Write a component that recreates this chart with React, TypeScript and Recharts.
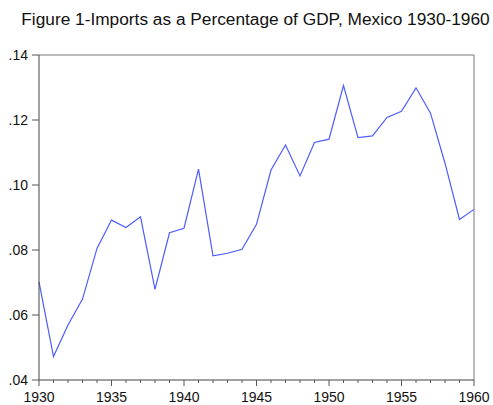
import React from 'react';
import { LineChart, Line, XAxis, YAxis, ReferenceLine } from 'recharts';

const years = [
  1930, 1931, 1932, 1933, 1934, 1935, 1936, 1937, 1938, 1939, 1940,
  1941, 1942, 1943, 1944, 1945, 1946, 1947, 1948, 1949, 1950,
  1951, 1952, 1953, 1954, 1955, 1956, 1957, 1958, 1959, 1960,
];
const importsShare = [
  0.0702, 0.0472, 0.0569, 0.0649, 0.0805, 0.0892, 0.0869, 0.0902, 0.0679, 0.0853, 0.0867,
  0.1049, 0.0782, 0.079, 0.0802, 0.0879, 0.1046, 0.1123, 0.1028, 0.1131, 0.1141,
  0.1306, 0.1146, 0.1151, 0.1208, 0.1227, 0.1299, 0.1221, 0.1067, 0.0894, 0.0925,
];
const yTicks = [0.04, 0.06, 0.08, 0.1, 0.12, 0.14];

const data = years.map((year, i) => ({ year, value: importsShare[i] }));

const font = 'Liberation Sans, Arial, sans-serif';

function YearTick({ x, y, payload }: any) {
  const major = payload.value % 5 === 0;
  return (
    <g>
      <line x1={x} y1={y} x2={x} y2={y + (major ? 6 : 3)} stroke="#555" />
      {major && (
        <text x={x} y={y + 22} textAnchor="middle" fontSize={14} fontFamily={font} fill="#111">
          {payload.value}
        </text>
      )}
    </g>
  );
}

export default function App() {
  return (
    <div style={{ position: 'absolute', left: 0, top: 0, width: 493, height: 405, background: '#fff' }}>
      <div
        style={{
          position: 'absolute',
          top: 9,
          left: 20,
          width: 471,
          textAlign: 'center',
          fontFamily: font,
          fontSize: 17.3,
          color: '#111',
          whiteSpace: 'nowrap',
        }}
      >
        Figure 1-Imports as a Percentage of GDP, Mexico 1930-1960
      </div>
      <LineChart width={493} height={405} data={data} margin={{ top: 55, right: 19, bottom: 0, left: 0 }}>
        <XAxis
          dataKey="year"
          type="number"
          domain={[1930, 1960]}
          ticks={years}
          interval={0}
          tickLine={false}
          tickSize={0}
          tickMargin={0}
          tick={<YearTick />}
          axisLine={{ stroke: '#444' }}
          height={25}
        />
        <YAxis
          type="number"
          domain={[0.04, 0.14]}
          ticks={yTicks}
          tickFormatter={(v: number) => '.' + v.toFixed(2).slice(2)}
          tick={{ fontSize: 14, fontFamily: font, fill: '#111' }}
          tickLine={{ stroke: '#555' }}
          tickSize={7}
          tickMargin={4}
          axisLine={{ stroke: '#444' }}
          width={39}
        />
        <ReferenceLine y={0.14} stroke="#777" />
        <ReferenceLine x={1960} stroke="#777" />
        <Line dataKey="value" stroke="#4d5cff" strokeWidth={1.2} dot={false} isAnimationActive={false} />
      </LineChart>
    </div>
  );
}
